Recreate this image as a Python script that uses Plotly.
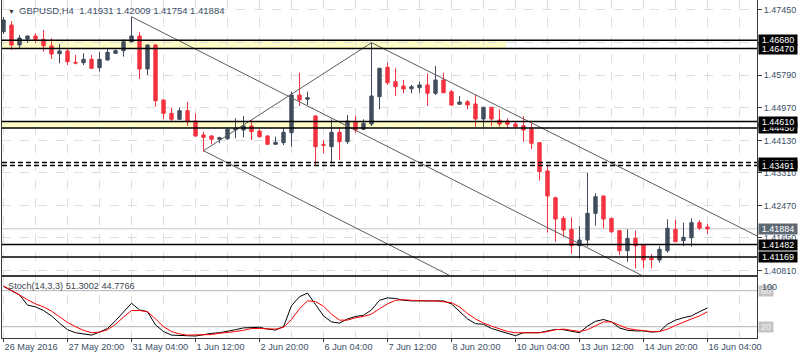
import plotly.graph_objects as go

# ---------------- data ----------------
bar_index = list(range(89))
opens = [1.46898, 1.47068, 1.46559, 1.46712, 1.46788, 1.46704, 1.46534, 1.46338, 1.46407, 1.46119,
         1.46109, 1.46195, 1.45982, 1.46178, 1.46348, 1.46414, 1.46643, 1.46788, 1.45949, 1.46559,
         1.45160, 1.44822, 1.44669, 1.44888, 1.44626, 1.44270, 1.44244, 1.44160, 1.44176, 1.44397,
         1.44397, 1.44499, 1.44371, 1.44244, 1.44033, 1.44074, 1.44328, 1.45287, 1.45178, 1.44753,
         1.44023, 1.43972, 1.44338, 1.44099, 1.44608, 1.44415, 1.44549, 1.45244, 1.45992, 1.45626,
         1.45516, 1.45448, 1.45473, 1.45542, 1.45330, 1.45669, 1.45371, 1.45051, 1.45117, 1.45058,
         1.44677, 1.44974, 1.44651, 1.44626, 1.44549, 1.44506, 1.44422, 1.44074, 1.43354, 1.42675,
         1.42150, 1.41871, 1.41453, 1.41598, 1.42278, 1.42718, 1.42150, 1.41835, 1.41326, 1.41642,
         1.41471, 1.41133, 1.41090, 1.41326, 1.41871, 1.41581, 1.41657, 1.42039, 1.41931]
highs = [1.47272, 1.47170, 1.46814, 1.46801, 1.46857, 1.46941, 1.46730, 1.46585, 1.46475, 1.46305,
         1.46348, 1.46305, 1.46389, 1.46475, 1.46450, 1.46704, 1.47279, 1.46890, 1.46572, 1.46585,
         1.45173, 1.44957, 1.44974, 1.45117, 1.44822, 1.44354, 1.44270, 1.44226, 1.44440, 1.44694,
         1.44753, 1.44651, 1.44415, 1.44270, 1.44226, 1.44440, 1.45371, 1.45855, 1.45371, 1.44778,
         1.44142, 1.44669, 1.44455, 1.44778, 1.44753, 1.44669, 1.46618, 1.45980, 1.46109, 1.45966,
         1.45669, 1.45542, 1.45626, 1.45839, 1.46025, 1.45855, 1.45414, 1.45262, 1.45160, 1.45287,
         1.44990, 1.44982, 1.44923, 1.44694, 1.44608, 1.44753, 1.44567, 1.44084, 1.43506, 1.42700,
         1.42209, 1.42176, 1.41955, 1.43311, 1.42786, 1.42730, 1.42160, 1.41853, 1.41871, 1.41835,
         1.41480, 1.41242, 1.41446, 1.42125, 1.42107, 1.42039, 1.42150, 1.42107, 1.42009]
lows = [1.46839, 1.46432, 1.46457, 1.46618, 1.46610, 1.46389, 1.46203, 1.46094, 1.46050, 1.46068,
        1.46050, 1.45949, 1.45880, 1.46160, 1.46330, 1.46262, 1.46623, 1.45694, 1.45796, 1.44990,
        1.44669, 1.44626, 1.44651, 1.44499, 1.44219, 1.43845, 1.44033, 1.44058, 1.44142, 1.44186,
        1.44211, 1.44142, 1.44201, 1.44015, 1.44015, 1.44015, 1.43972, 1.45007, 1.45033, 1.43506,
        1.43804, 1.43550, 1.43634, 1.44041, 1.44328, 1.44397, 1.44499, 1.44923, 1.45542, 1.45262,
        1.45330, 1.45330, 1.45346, 1.45007, 1.45287, 1.45333, 1.45007, 1.45038, 1.44923, 1.44481,
        1.44466, 1.44499, 1.44481, 1.44440, 1.44440, 1.44099, 1.43913, 1.43107, 1.41784, 1.41555,
        1.41682, 1.41242, 1.41133, 1.41428, 1.41962, 1.41896, 1.41769, 1.41217, 1.41046, 1.40878,
        1.40878, 1.40878, 1.41021, 1.41275, 1.41545, 1.41446, 1.41428, 1.41853, 1.41754]
closes = [1.47195, 1.46559, 1.46737, 1.46788, 1.46704, 1.46541, 1.46330, 1.46407, 1.46134, 1.46101,
          1.46195, 1.45966, 1.46195, 1.46374, 1.46414, 1.46643, 1.46788, 1.45949, 1.46559, 1.45142,
          1.44822, 1.44669, 1.44888, 1.44608, 1.44244, 1.44211, 1.44160, 1.44201, 1.44415, 1.44440,
          1.44499, 1.44354, 1.44226, 1.44033, 1.44084, 1.44338, 1.45287, 1.45160, 1.45219, 1.43972,
          1.44008, 1.44338, 1.44099, 1.44626, 1.44397, 1.44567, 1.45262, 1.45966, 1.45600, 1.45498,
          1.45440, 1.45498, 1.45542, 1.45330, 1.45669, 1.45346, 1.45033, 1.45109, 1.45033, 1.44677,
          1.44974, 1.44677, 1.44549, 1.44542, 1.44481, 1.44397, 1.44058, 1.43336, 1.42718, 1.42133,
          1.41853, 1.41453, 1.41598, 1.42278, 1.42700, 1.42133, 1.41810, 1.41326, 1.41642, 1.41453,
          1.41090, 1.41097, 1.41362, 1.41896, 1.41555, 1.41667, 1.42039, 1.41900, 1.41884]

stoch_k = [87, 80, 73, 56, 53, 47, 38, 26, 15, 10,
           8, 6, 11, 17, 30, 45, 59, 48, 45, 23,
           12, 6, 6, 5, 4.5, 7, 9, 10, 12, 15,
           18, 19, 19, 16, 14.5, 20, 55, 70, 76, 57,
           38, 28, 26, 33, 37, 39, 48, 64, 68, 67,
           64, 63, 63, 63, 63, 63, 58, 46, 33, 25,
           24, 17, 13, 10, 5, 10, 10, 10, 13, 15.5,
           15, 12, 10, 21, 29, 32, 28, 18, 14, 13,
           13, 11, 12, 24, 31, 35, 38, 45, 51.3002]
stoch_d = [88, 80, 72, 65, 58, 53, 46, 36, 27, 20,
           14, 10, 11, 15, 24, 36, 47, 47, 45, 33,
           20, 12, 8, 6, 6, 6, 7, 9, 10, 12,
           14, 17, 17, 16, 16, 19, 32, 50, 63, 62,
           54, 41, 31, 31, 35, 37, 41, 50, 58, 64,
           65, 64, 63, 63, 63, 62, 60, 53, 42, 33,
           26, 21, 16, 12, 10, 10, 10, 10, 12, 15,
           16, 14, 12, 15, 22, 28, 28, 22, 17, 15,
           13, 12, 12, 16, 22, 28, 33, 38, 44.7766]

x_tick_bars = [0, 8, 16, 24, 32, 40, 48, 56, 64, 72, 80, 88]
x_tick_labels = ["26 May 2016", "27 May 20:00", "31 May 04:00", "1 Jun 12:00", "2 Jun 20:00",
                 "6 Jun 04:00", "7 Jun 12:00", "8 Jun 20:00", "10 Jun 04:00", "13 Jun 12:00",
                 "14 Jun 20:00", "16 Jun 04:00"]
x_grid_bars = [4, 12, 20, 28, 36, 44, 52, 60, 68, 76, 84, 92]
price_ticks = [1.47450, 1.46630, 1.45790, 1.44970, 1.44130, 1.43310, 1.42470, 1.41650, 1.40810]
price_tick_labels = ["1.47450", "1.46630", "1.45790", "1.44970", "1.44130", "1.43310", "1.42470", "1.41650", "1.40810"]

zone_tops = [1.46680, 1.44610]
zone_bottoms = [1.46470, 1.44450]
zone_end_bar = 62.8
solid_levels = [1.46680, 1.46470, 1.44610, 1.44450, 1.41482, 1.41169]
dashed_levels = [1.43570, 1.43491]
last_price = 1.41884
label_levels = [1.46680, 1.46470, 1.44450, 1.44610, 1.43570, 1.43491, 1.41884, 1.41482, 1.41169]

trend_lines = {
    "a": ([16, 80], [1.47279, 1.40676]),
    "b": ([25, 57], [1.43870, 1.40569]),
    "c": ([46, 95], [1.46618, 1.41620]),
    "d": ([25, 46], [1.43870, 1.46618]),
}
stoch_levels = [80, 20]
stoch_scale_labels = [(100, "100"), (0, "0")]

title_text = "GBPUSD,H4  1.41931 1.42009 1.41754 1.41884"
stoch_text = "Stoch(14,3,3) 51.3002 44.7766"

# ---------------- style ----------------
BULL = "#404d5d"
BEAR = "#f5323f"
TXT = "#3a4e66"
FONT = "Liberation Sans, Arial, sans-serif"
GRID = "#dedede"
X_RANGE = [-0.19, 94.19]
MAIN_RANGE = [1.40708, 1.47704]
STOCH_RANGE = [1.2, 102.8]

fig = go.Figure()

fig.add_trace(go.Candlestick(
    x=bar_index, open=opens, high=highs, low=lows, close=closes,
    increasing=dict(line=dict(color=BULL, width=1), fillcolor=BULL),
    decreasing=dict(line=dict(color=BEAR, width=1), fillcolor=BEAR),
    whiskerwidth=0, showlegend=False, hoverinfo="skip",
    xaxis="x", yaxis="y"))

for key, (bx, py) in trend_lines.items():
    fig.add_trace(go.Scatter(x=bx, y=py, mode="lines",
                             line=dict(color="#5c5c5c", width=1),
                             showlegend=False, hoverinfo="skip", xaxis="x", yaxis="y"))

fig.add_trace(go.Scatter(x=bar_index, y=stoch_k, mode="lines",
                         line=dict(color="#000000", width=1),
                         showlegend=False, hoverinfo="skip", xaxis="x2", yaxis="y2"))
fig.add_trace(go.Scatter(x=bar_index, y=stoch_d, mode="lines",
                         line=dict(color="#ff0000", width=1),
                         showlegend=False, hoverinfo="skip", xaxis="x2", yaxis="y2"))

shapes = []
span = X_RANGE[1] - X_RANGE[0]
for top, bot in zip(zone_tops, zone_bottoms):
    shapes.append(dict(type="rect", xref="x domain", yref="y",
                       x0=0, x1=(zone_end_bar - X_RANGE[0]) / span, y0=bot, y1=top,
                       fillcolor="#fdfbc6", line=dict(width=0), layer="below"))
shapes.append(dict(type="line", xref="x domain", yref="y", x0=0, x1=1,
                   y0=last_price, y1=last_price, line=dict(color="#c8c8c8", width=1), layer="below"))
for lv in solid_levels:
    shapes.append(dict(type="line", xref="x domain", yref="y", x0=0, x1=1, y0=lv, y1=lv,
                       line=dict(color="#000000", width=1.5), layer="above"))
for lv in dashed_levels:
    shapes.append(dict(type="line", xref="x domain", yref="y", x0=0, x1=1, y0=lv, y1=lv,
                       line=dict(color="#000000", width=1.5, dash="5px,3px"), layer="above"))
for lv in stoch_levels:
    shapes.append(dict(type="line", xref="x2 domain", yref="y2", x0=0, x1=1, y0=lv, y1=lv,
                       line=dict(color="#b4b4b4", width=1), layer="below"))

annotations = []
for lv in label_levels:
    is_last = lv == last_price
    annotations.append(dict(xref="x domain", yref="y", x=1, y=lv, xanchor="left", yanchor="middle",
                            xshift=1, text=f"{lv:.5f}", showarrow=False, width=38, height=10,
                            align="center", valign="middle",
                            font=dict(family=FONT, size=9, color="#ffffff"),
                            bgcolor="#5d6873" if is_last else "#000000", borderpad=0))
for lv in stoch_levels:
    annotations.append(dict(xref="x2 domain", yref="y2", x=1, y=lv, xanchor="left", yanchor="middle",
                            xshift=1, text=str(lv), showarrow=False, bgcolor="#c4c4c4", borderpad=0,
                            width=14, height=10, align="center",
                            font=dict(family=FONT, size=9, color="#f4f4f4")))
for val, txt in stoch_scale_labels:
    annotations.append(dict(xref="x2 domain", yref="y2", x=1, y=val, xanchor="left",
                            yanchor="top" if val > 50 else "bottom",
                            xshift=3, yshift=-1 if val > 50 else 1, text=txt, showarrow=False,
                            font=dict(family=FONT, size=9, color=TXT)))
annotations.append(dict(xref="paper", yref="paper", x=0, y=1, xanchor="left", yanchor="top",
                        xshift=4, yshift=-6, text="▼", showarrow=False,
                        font=dict(family=FONT, size=7, color="#3c3c3c")))
annotations.append(dict(xref="paper", yref="paper", x=0, y=1, xanchor="left", yanchor="top",
                        xshift=15, yshift=-3, text=title_text, showarrow=False,
                        font=dict(family=FONT, size=9.5, color=TXT)))
annotations.append(dict(xref="x2 domain", yref="y2 domain", x=0, y=1, xanchor="left", yanchor="top",
                        xshift=4, yshift=-2, text=stoch_text, showarrow=False,
                        font=dict(family=FONT, size=9.2, color="#3c4652")))

fig.update_layout(
    width=800, height=360,
    margin=dict(l=2, r=43, t=0, b=22, autoexpand=False),
    paper_bgcolor="#ffffff", plot_bgcolor="#ffffff",
    showlegend=False, boxgap=0.4,
    shapes=shapes, annotations=annotations,
    xaxis=dict(domain=[0, 1], anchor="y", range=X_RANGE, rangeslider=dict(visible=False),
               showticklabels=False, ticks="", showgrid=False, automargin=False,
               tickvals=x_tick_bars,
               minor=dict(tickmode="array", tickvals=x_grid_bars + x_tick_bars, showgrid=True,
                          gridcolor=GRID, griddash="dash", gridwidth=1, ticks=""),
               showline=True, linecolor="#3a3a3a", linewidth=1, zeroline=False),
    yaxis=dict(domain=[63 / 338, 1], anchor="x", side="right", range=MAIN_RANGE, automargin=False,
               tickmode="array", tickvals=price_ticks, ticktext=price_tick_labels,
               ticks="outside", ticklen=4, tickcolor="#3a3a3a",
               tickfont=dict(family=FONT, size=9, color=TXT),
               showgrid=True, gridcolor=GRID, griddash="dash", gridwidth=1,
               showline=True, mirror=True, linecolor="#3a3a3a", linewidth=1, zeroline=False),
    xaxis2=dict(domain=[0, 1], anchor="y2", range=X_RANGE, matches="x", automargin=False,
                tickmode="array", tickvals=x_tick_bars, ticktext=x_tick_labels, tickangle=0,
                ticklabelposition="outside right", ticks="outside", ticklen=3, tickcolor="#3a3a3a",
                tickfont=dict(family=FONT, size=9.2, color=TXT), showgrid=False,
                minor=dict(tickmode="array", tickvals=x_grid_bars + x_tick_bars, showgrid=True,
                           gridcolor=GRID, griddash="dash", gridwidth=1, ticks=""),
                showline=True, mirror=True, linecolor="#3a3a3a", linewidth=1, zeroline=False),
    yaxis2=dict(domain=[0, 61 / 338], anchor="x2", side="right", range=STOCH_RANGE, automargin=False,
                showticklabels=False, ticks="", showgrid=False,
                showline=True, mirror=True, linecolor="#3a3a3a", linewidth=1, zeroline=False),
)

fig.write_html("out.html", config={"displayModeBar": False},
               post_script="document.body.style.margin='0px';document.body.style.overflow='hidden';")
